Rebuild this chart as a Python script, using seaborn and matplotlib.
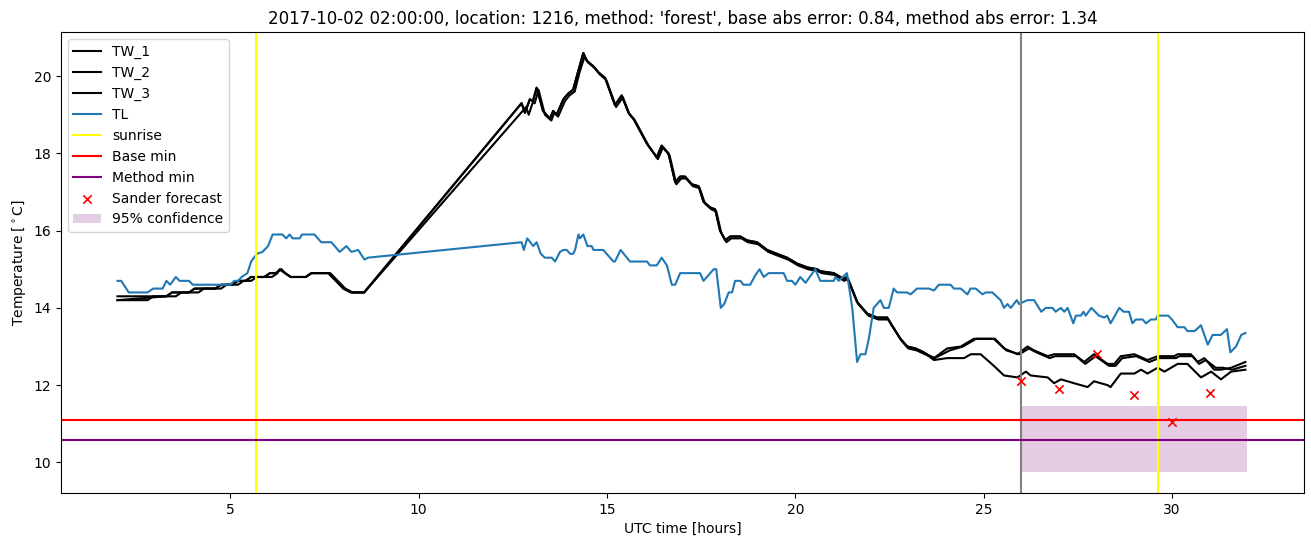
import matplotlib
matplotlib.use("Agg")
import matplotlib.pyplot as plt
import seaborn as sns
import numpy as np

# ---------------- data ----------------
tw1_t = [2.0, 3.3, 3.45, 3.9, 4.05, 4.6, 4.75, 5.05, 5.2, 5.4, 5.55, 5.9, 6.05, 6.2, 6.35, 6.45, 6.6, 7.0, 7.15, 7.6, 7.8, 8.0, 8.2, 8.55,
         12.73, 12.82, 12.95, 13.03, 13.13, 13.3, 13.48, 13.57, 13.66, 13.84, 13.97, 14.1, 14.24, 14.37, 14.46, 14.64, 14.77, 14.95,
         15.21, 15.39, 15.57, 15.7, 16.06, 16.32, 16.45, 16.63, 16.81, 16.94, 17.07, 17.25, 17.43, 17.56, 17.74, 17.87, 18.0, 18.14,
         18.27, 18.54, 18.71, 18.98, 19.25, 19.51, 19.78, 20.04, 20.31, 20.58, 20.66, 21.02, 21.28, 21.37, 21.64, 21.91, 22.17, 22.44,
         22.53, 22.79, 22.97, 23.19, 23.41, 23.68,
         24.03, 24.39, 24.74, 25.27, 25.54, 25.9, 26.16, 26.34, 26.7, 26.87, 27.4, 27.67, 27.93, 28.29, 28.47, 28.64, 29.0, 29.35,
         29.62, 30.06, 30.15, 30.5, 30.68, 30.86, 31.12, 31.3, 31.57, 31.95]
tw1_v = [14.3, 14.3, 14.4, 14.4, 14.5, 14.5, 14.6, 14.6, 14.7, 14.7, 14.8, 14.8, 14.9, 14.9, 15.0, 14.9, 14.8, 14.8, 14.9, 14.9, 14.7, 14.5, 14.4, 14.4,
         19.3, 19.05, 19.4, 19.35, 19.7, 19.1, 18.9, 19.1, 19.0, 19.4, 19.55, 19.65, 20.15, 20.6, 20.4, 20.25, 20.1, 19.95,
         19.25, 19.5, 19.05, 18.9, 18.25, 17.9, 18.2, 18.0, 17.25, 17.4, 17.4, 17.2, 17.15, 16.75, 16.6, 16.55, 16.0, 15.75,
         15.85, 15.85, 15.75, 15.7, 15.5, 15.4, 15.3, 15.15, 15.05, 15.0, 14.95, 14.9, 14.75, 14.8, 14.15, 13.85, 13.75, 13.75,
         13.6, 13.2, 13.0, 12.95, 12.85, 12.7,
         12.95, 13.0, 13.2, 13.2, 12.95, 12.8, 13.0, 12.9, 12.75, 12.8, 12.8, 12.6, 12.8, 12.55, 12.55, 12.75, 12.8, 12.65,
         12.75, 12.75, 12.8, 12.8, 12.6, 12.7, 12.4, 12.4, 12.45, 12.6]

tw2_t = [2.0, 2.8, 2.95, 3.55, 3.7, 4.15, 4.3, 4.75, 4.9, 5.2, 5.35, 5.55, 5.7, 6.1, 6.25, 6.3, 6.45, 6.6, 7.0, 7.15, 7.65, 7.85, 8.05, 8.25, 8.55,
         12.85, 12.92, 13.02, 13.08, 13.18, 13.35, 13.52, 13.6, 13.7, 13.88, 14.0, 14.14, 14.27, 14.4, 14.5, 14.68, 14.8, 14.98,
         15.24, 15.42, 15.6, 15.74, 16.1, 16.35, 16.48, 16.66, 16.84, 16.97, 17.1, 17.28, 17.46, 17.6, 17.77, 17.9, 18.03, 18.17,
         18.3, 18.57, 18.74, 19.01, 19.28, 19.54, 19.81, 20.07, 20.34, 20.6, 20.7, 21.05, 21.3, 21.4, 21.67, 21.94, 22.2, 22.47,
         22.56, 22.82, 23.0, 23.22, 23.44, 23.7,
         24.1, 24.45, 24.8, 25.3, 25.6, 25.95, 26.2, 26.4, 26.75, 26.9, 27.45, 27.7, 27.97, 28.33, 28.5, 28.68, 29.05, 29.4,
         29.66, 30.1, 30.2, 30.55, 30.72, 30.9, 31.16, 31.35, 31.6, 31.95]
tw2_v = [14.2, 14.2, 14.3, 14.3, 14.4, 14.4, 14.5, 14.5, 14.6, 14.6, 14.7, 14.7, 14.8, 14.8, 14.9, 15.0, 14.9, 14.8, 14.8, 14.9, 14.9, 14.7, 14.5, 14.4, 14.4,
         19.2, 19.0, 19.3, 19.3, 19.65, 19.0, 18.85, 19.05, 18.95, 19.35, 19.5, 19.6, 20.1, 20.5, 20.35, 20.2, 20.05, 19.9,
         19.2, 19.45, 19.0, 18.85, 18.2, 17.85, 18.15, 17.95, 17.2, 17.35, 17.35, 17.15, 17.1, 16.7, 16.55, 16.5, 15.95, 15.7,
         15.8, 15.8, 15.7, 15.65, 15.45, 15.35, 15.25, 15.1, 15.0, 14.95, 14.9, 14.85, 14.7, 14.75, 14.1, 13.8, 13.7, 13.7,
         13.55, 13.15, 12.95, 12.9, 12.8, 12.7,
         12.9, 13.0, 13.2, 13.2, 12.9, 12.8, 12.95, 12.85, 12.7, 12.75, 12.75, 12.55, 12.75, 12.5, 12.5, 12.7, 12.75, 12.6,
         12.7, 12.7, 12.75, 12.75, 12.55, 12.65, 12.45, 12.45, 12.4, 12.5]

tw3_t = [2.0, 3.3, 3.45, 3.9, 4.05, 4.6, 4.75, 5.05, 5.2, 5.4, 5.55, 5.9, 6.05, 6.2, 6.35, 6.45, 6.6, 7.0, 7.15, 7.6, 7.8, 8.0, 8.2, 8.55,
         12.73, 12.82, 12.95, 13.03, 13.13, 13.3, 13.48, 13.57, 13.66, 13.84, 13.97, 14.1, 14.24, 14.37, 14.46, 14.64, 14.77, 14.95,
         15.21, 15.39, 15.57, 15.7, 16.06, 16.32, 16.45, 16.63, 16.81, 16.94, 17.07, 17.25, 17.43, 17.56, 17.74, 17.87, 18.0, 18.14,
         18.27, 18.54, 18.71, 18.98, 19.25, 19.51, 19.78, 20.04, 20.31, 20.58, 20.66, 21.02, 21.28, 21.37, 21.64, 21.91, 22.17, 22.44,
         22.53, 22.79, 22.97, 23.19, 23.41, 23.68,
         24.03, 24.48, 24.66, 24.92, 25.27, 25.54, 25.9, 26.12, 26.25, 26.7, 26.87, 27.05, 27.4, 27.76, 27.93, 28.29, 28.37, 28.64,
         29.0, 29.18, 29.35, 29.62, 29.8, 30.15, 30.41, 30.77, 31.04, 31.3, 31.57, 31.95]
tw3_v = [14.2, 14.3, 14.4, 14.4, 14.5, 14.5, 14.6, 14.6, 14.7, 14.7, 14.8, 14.8, 14.9, 14.9, 15.0, 14.9, 14.8, 14.8, 14.9, 14.9, 14.7, 14.5, 14.4, 14.4,
         19.3, 19.05, 19.4, 19.35, 19.7, 19.1, 18.9, 19.1, 19.0, 19.4, 19.55, 19.65, 20.15, 20.6, 20.4, 20.25, 20.1, 19.95,
         19.25, 19.5, 19.05, 18.9, 18.25, 17.9, 18.2, 18.0, 17.25, 17.4, 17.4, 17.2, 17.15, 16.75, 16.6, 16.55, 16.0, 15.75,
         15.85, 15.85, 15.75, 15.7, 15.5, 15.4, 15.3, 15.15, 15.05, 15.0, 14.95, 14.9, 14.75, 14.8, 14.15, 13.85, 13.75, 13.75,
         13.6, 13.2, 13.0, 12.95, 12.85, 12.65,
         12.7, 12.7, 12.8, 12.8, 12.5, 12.25, 12.2, 12.35, 12.25, 12.2, 12.05, 12.15, 12.05, 11.95, 12.1, 12.0, 11.95, 12.3,
         12.3, 12.4, 12.3, 12.45, 12.35, 12.55, 12.55, 12.2, 12.35, 12.15, 12.35, 12.4]

tl_t = [2.0, 2.1, 2.3, 2.8, 2.95, 3.2, 3.3, 3.4, 3.55, 3.65, 3.9, 4.0, 5.0, 5.1, 5.2, 5.3, 5.45, 5.55, 5.7, 5.85, 6.0, 6.12,
        6.38, 6.48, 6.57, 6.65, 6.84, 6.9, 7.23, 7.41, 7.68, 7.9, 8.08, 8.21, 8.39, 8.56, 8.65,
        12.73, 12.79, 12.88, 13.04, 13.13, 13.24, 13.35, 13.53, 13.62, 13.75, 13.84, 13.93, 14.02, 14.1, 14.15, 14.24, 14.28,
        14.37, 14.48, 14.59, 14.64, 14.9, 15.17, 15.21, 15.36, 15.61, 16.06, 16.14, 16.32, 16.45, 16.59, 16.72, 16.81, 16.94,
        17.47, 17.56, 17.83, 17.9, 18.02, 18.11, 18.23, 18.32, 18.4, 18.54, 18.62, 18.8, 18.94, 19.05, 19.16, 19.29, 19.69,
        19.78, 19.91, 20.0, 20.13, 20.27, 20.53, 20.66, 21.02, 21.06, 21.15, 21.37, 21.51, 21.64, 21.73, 21.86, 21.95, 22.08,
        22.26, 22.35, 22.48, 22.61, 22.7, 22.97, 23.06, 23.23, 23.55, 23.68, 23.81, 24.12, 24.21, 24.39, 24.57, 24.65, 24.79,
        24.97, 25.05, 25.23, 25.45, 25.54, 25.63, 25.72, 25.88, 25.94, 26.16, 26.34, 26.53, 26.65, 26.83, 26.91, 27.05, 27.14,
        27.23, 27.38, 27.45, 27.58, 27.65, 27.71, 27.86, 28.06, 28.2, 28.28, 28.37, 28.6, 28.72, 28.86, 28.95, 29.04, 29.22,
        29.31, 29.44, 29.57, 29.62, 29.9, 30.0, 30.15, 30.33, 30.41, 30.6, 30.77, 30.95, 31.08, 31.3, 31.46, 31.55, 31.7,
        31.84, 31.95]
tl_v = [14.7, 14.7, 14.4, 14.4, 14.5, 14.5, 14.7, 14.6, 14.8, 14.7, 14.7, 14.6, 14.6, 14.7, 14.7, 14.8, 14.9, 15.2, 15.4, 15.45, 15.6, 15.9,
        15.9, 15.8, 15.9, 15.8, 15.8, 15.9, 15.9, 15.7, 15.7, 15.45, 15.6, 15.45, 15.5, 15.25, 15.3,
        15.7, 15.5, 15.8, 15.6, 15.7, 15.4, 15.3, 15.3, 15.2, 15.45, 15.5, 15.5, 15.4, 15.4, 15.5, 15.9, 15.8,
        15.9, 15.6, 15.6, 15.5, 15.5, 15.2, 15.2, 15.5, 15.2, 15.2, 15.1, 15.1, 15.3, 15.1, 14.6, 14.6, 14.9,
        14.9, 14.7, 15.0, 15.0, 14.0, 14.1, 14.4, 14.4, 14.7, 14.7, 14.6, 14.6, 14.85, 15.0, 14.8, 14.9, 14.9,
        14.7, 14.7, 14.6, 14.8, 14.65, 15.0, 14.7, 14.7, 14.8, 14.7, 14.9, 14.0, 12.6, 12.8, 12.8, 13.2, 14.0,
        14.2, 14.0, 14.0, 14.5, 14.4, 14.4, 14.35, 14.5, 14.5, 14.45, 14.6, 14.6, 14.5, 14.5, 14.35, 14.5, 14.5,
        14.35, 14.4, 14.4, 14.2, 14.0, 14.1, 14.0, 14.2, 14.1, 14.2, 14.2, 13.9, 14.0, 14.0, 13.9, 14.0, 13.9,
        14.0, 13.6, 13.8, 13.8, 13.9, 13.8, 14.0, 13.8, 13.75, 13.8, 13.6, 14.0, 13.9, 13.9, 13.6, 13.7, 13.7,
        13.6, 13.7, 13.7, 13.8, 13.8, 13.7, 13.5, 13.5, 13.4, 13.4, 13.55, 13.05, 13.3, 13.3, 13.45, 12.85, 13.0,
        13.3, 13.35]

sunrise_hours = [5.67, 29.63]
forecast_start = 26.0
base_min = 11.09
method_min = 10.58
sander_t = [26, 27, 28, 29, 30, 31]
sander_v = [12.1, 11.9, 12.8, 11.75, 11.05, 11.8]
conf_t = [26.0, 32.0]
conf_low = [9.75, 9.75]
conf_high = [11.47, 11.47]

title = ("2017-10-02 02:00:00, location: 1216, method: 'forest', "
         "base abs error: 0.84, method abs error: 1.34")

# ---------------- plot ----------------
plt.rcParams['font.family'] = ['DejaVu Sans']
fig = plt.figure(figsize=(13.11, 5.47), dpi=100)
ax = fig.add_axes([0.0465, 0.0987, 0.948, 0.8428])

for name, t, v in [("TW_1", tw1_t, tw1_v), ("TW_2", tw2_t, tw2_v), ("TW_3", tw3_t, tw3_v)]:
    sns.lineplot(x=t, y=v, ax=ax, color="black", label=name, estimator=None, sort=False, linewidth=1.5)
sns.lineplot(x=tl_t, y=tl_v, ax=ax, color="#1f77b4", label="TL", estimator=None, sort=False, linewidth=1.5)

for i, s in enumerate(sunrise_hours):
    ax.axvline(s, color="yellow", label="sunrise" if i == 0 else None)
ax.axvline(forecast_start, color="grey")
ax.axhline(base_min, color="red", label="Base min")
ax.axhline(method_min, color="purple", label="Method min")
sns.scatterplot(x=sander_t, y=sander_v, ax=ax, marker="x", color="red", s=36,
                linewidth=1.2, label="Sander forecast", zorder=3)
ax.fill_between(conf_t, conf_low, conf_high, color="purple", alpha=0.2,
                linewidth=0, label="95% confidence")

ax.set_title(title, fontsize=12)
ax.set_xlabel("UTC time [hours]")
ax.set_ylabel(r"Temperature [$^\circ$C]")
ax.legend(loc="upper left")

fig.savefig("out.png", dpi=100)
